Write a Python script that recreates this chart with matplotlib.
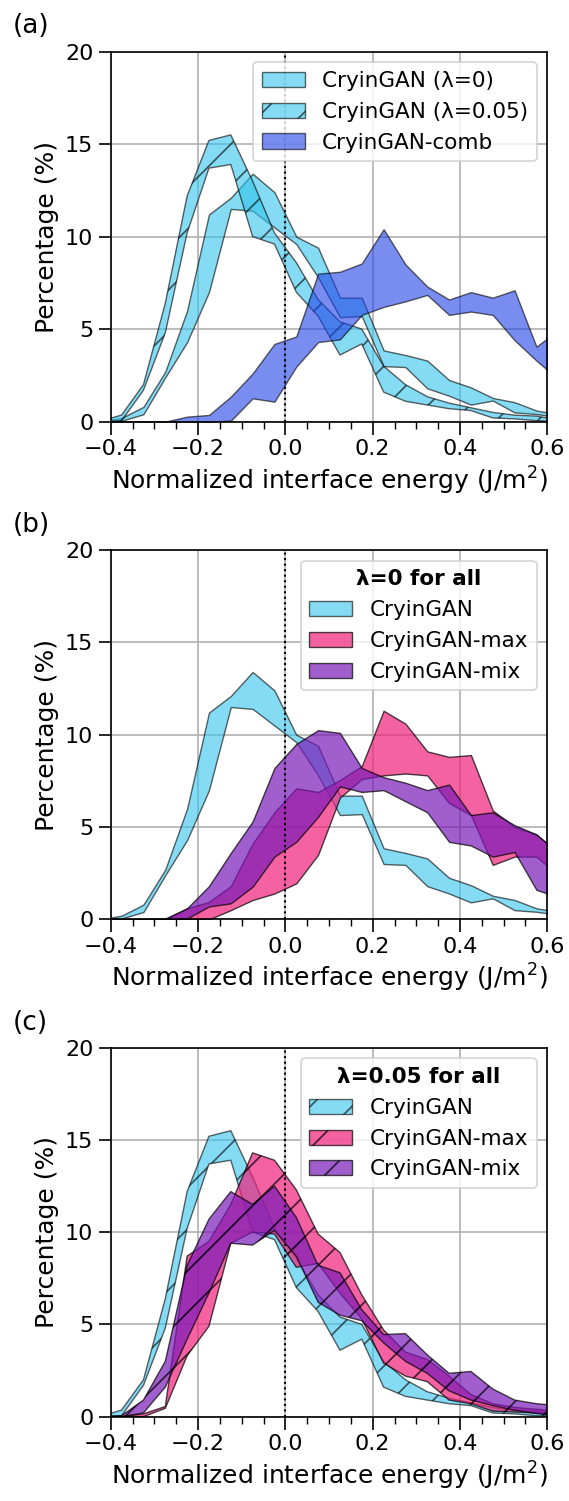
import numpy as np
import matplotlib
matplotlib.use("Agg")
import matplotlib.pyplot as plt
from matplotlib.patches import Patch
from matplotlib.ticker import MultipleLocator

# bin centres (0.05 wide); the two outer ones are clipped by the x limits
x = np.round(np.arange(-0.425, 0.626, 0.05), 3)

# CryinGAN, lambda = 0 (band = min/max over runs)
gan0_hi = [0.0, 0.2, 0.8, 2.7, 6.0, 11.2, 12.1, 13.4, 12.4, 10.0, 9.4, 6.7, 6.7, 3.85, 3.6, 3.3, 2.25, 1.85, 1.28, 1.05, 0.6, 0.4]
gan0_lo = [0.0, 0.05, 0.4, 2.4, 4.3, 7.0, 11.5, 11.4, 10.5, 9.6, 7.8, 5.65, 5.7, 3.0, 2.95, 1.8, 1.4, 0.92, 1.14, 0.5, 0.41, 0.25]

# CryinGAN, lambda = 0.05
gan5_hi = [0.0, 0.36, 2.0, 6.4, 12.2, 15.2, 15.5, 13.0, 10.2, 8.6, 6.6, 5.4, 5.0, 3.0, 2.0, 1.35, 1.0, 0.75, 0.5, 0.35, 0.3, 0.1]
gan5_lo = [0.0, 0.05, 1.7, 4.8, 10.2, 13.7, 13.9, 10.0, 9.6, 7.0, 5.7, 3.6, 4.2, 1.6, 1.1, 0.9, 0.7, 0.6, 0.2, 0.15, 0.05, 0.0]

# CryinGAN-comb
comb_hi = [0.0, 0.0, 0.0, 0.0, 0.27, 0.36, 1.35, 2.6, 4.2, 4.6, 8.0, 8.1, 8.55, 10.4, 8.5, 7.3, 6.6, 7.0, 6.7, 7.1, 4.05, 4.95]
comb_lo = [0.0, 0.0, 0.0, 0.0, 0.0, 0.0, 0.05, 1.26, 1.08, 2.97, 4.3, 4.45, 5.77, 6.2, 6.5, 6.85, 5.77, 5.95, 5.77, 4.4, 3.3, 2.3]

# CryinGAN-max / -mix, lambda = 0
max0_hi = [0.0, 0.0, 0.0, 0.0, 0.6, 0.95, 1.8, 4.1, 5.8, 7.1, 6.9, 7.55, 8.3, 11.3, 10.6, 9.1, 8.8, 8.9, 5.9, 5.0, 4.6, 3.6]
max0_lo = [0.0, 0.0, 0.0, 0.0, 0.0, 0.0, 0.5, 1.05, 1.4, 1.95, 3.5, 6.6, 7.6, 7.8, 7.9, 7.8, 6.3, 5.65, 2.95, 3.4, 3.4, 2.4]
mix0_hi = [0.0, 0.0, 0.0, 0.05, 0.6, 1.8, 3.6, 5.3, 8.2, 9.5, 10.25, 10.1, 8.2, 7.7, 7.4, 7.0, 7.3, 5.65, 5.8, 5.1, 4.6, 3.6]
mix0_lo = [0.0, 0.0, 0.0, 0.0, 0.05, 0.7, 0.87, 1.77, 3.4, 4.2, 5.56, 7.2, 6.9, 7.0, 6.4, 5.8, 4.2, 4.0, 3.4, 3.65, 1.6, 1.2]

# CryinGAN-max / -mix, lambda = 0.05
max5_hi = [0.0, 0.0, 0.15, 0.55, 8.7, 9.5, 11.5, 14.3, 13.9, 12.3, 9.9, 8.9, 6.6, 4.7, 3.5, 3.1, 2.2, 1.2, 0.7, 0.5, 0.4, 0.3]
max5_lo = [0.0, 0.0, 0.0, 0.45, 3.3, 4.9, 9.4, 10.0, 9.9, 8.1, 8.3, 6.7, 5.3, 2.9, 2.2, 1.9, 0.9, 0.7, 0.3, 0.25, 0.2, 0.1]
mix5_hi = [0.0, 0.05, 0.9, 3.0, 8.2, 10.7, 12.2, 11.5, 12.5, 10.8, 8.2, 7.8, 5.8, 4.45, 4.5, 3.35, 2.35, 2.45, 1.5, 0.9, 0.7, 0.6]
mix5_lo = [0.0, 0.0, 0.2, 1.6, 4.2, 6.7, 9.4, 9.3, 10.1, 8.7, 6.2, 5.5, 5.2, 4.0, 3.0, 2.35, 1.4, 0.9, 0.6, 0.35, 0.17, 0.0]

c_gan = "#33c4ec"
c_comb = "#2040e6"
c_max = "#f0207a"
c_mix = "#7a1ab8"

# saved at 125 dpi so the hatch spacing comes out like the original;
# all point sizes are scaled by k to keep the same pixel sizes
DPI = 125
k = 100 / DPI

plt.rcParams["font.size"] = 16 * k
plt.rcParams["hatch.linewidth"] = 1.0

fig = plt.figure(figsize=(569 / DPI, 1501 / DPI), dpi=DPI)
boxes = [
    [0.1946, 0.7191, 0.7673, 0.2465],
    [0.1946, 0.3875, 0.7673, 0.2460],
    [0.1946, 0.0562, 0.7673, 0.2458],
]
axes = [fig.add_axes(b) for b in boxes]
HATCH = "/"


def band(ax, lo, hi, color, alpha, hatch=None):
    ax.fill_between(x, lo, hi, facecolor=color, alpha=alpha, edgecolor="black",
                    linewidth=1.0 * k, hatch=hatch)


def legend_handle(color, alpha, hatch, label):
    return Patch(facecolor=color, alpha=alpha, edgecolor="black", hatch=hatch,
                 linewidth=1.0 * k, label=label)


leg_kw = dict(loc="upper right", fontsize=15.5 * k, handlelength=2.0)
title_font = {"weight": "bold", "size": 15.5 * k}

# (a)
ax = axes[0]
band(ax, gan0_lo, gan0_hi, c_gan, 0.6)
band(ax, gan5_lo, gan5_hi, c_gan, 0.6, hatch=HATCH)
band(ax, comb_lo, comb_hi, c_comb, 0.6)
hs = [legend_handle(c_gan, 0.6, None, "CryinGAN (λ=0)"),
      legend_handle(c_gan, 0.6, HATCH, "CryinGAN (λ=0.05)"),
      legend_handle(c_comb, 0.6, None, "CryinGAN-comb")]
ax.legend(handles=hs, **leg_kw)

# (b)
ax = axes[1]
band(ax, gan0_lo, gan0_hi, c_gan, 0.6)
band(ax, max0_lo, max0_hi, c_max, 0.7)
band(ax, mix0_lo, mix0_hi, c_mix, 0.7)
hs = [legend_handle(c_gan, 0.6, None, "CryinGAN"),
      legend_handle(c_max, 0.7, None, "CryinGAN-max"),
      legend_handle(c_mix, 0.7, None, "CryinGAN-mix")]
ax.legend(handles=hs, title="λ=0 for all", title_fontproperties=title_font, **leg_kw)

# (c)
ax = axes[2]
band(ax, gan5_lo, gan5_hi, c_gan, 0.6, hatch=HATCH)
band(ax, max5_lo, max5_hi, c_max, 0.7, hatch=HATCH)
band(ax, mix5_lo, mix5_hi, c_mix, 0.7, hatch=HATCH)
hs = [legend_handle(c_gan, 0.6, HATCH, "CryinGAN"),
      legend_handle(c_max, 0.7, HATCH, "CryinGAN-max"),
      legend_handle(c_mix, 0.7, HATCH, "CryinGAN-mix")]
ax.legend(handles=hs, title="λ=0.05 for all", title_fontproperties=title_font, **leg_kw)

for ax, tag in zip(axes, ["(a)", "(b)", "(c)"]):
    ax.axvline(0, color="black", linestyle=":", linewidth=1.5 * k)
    ax.set_xlim(-0.4, 0.6)
    ax.set_ylim(0, 20)
    ax.xaxis.set_major_locator(MultipleLocator(0.2))
    ax.xaxis.set_minor_locator(MultipleLocator(0.05))
    ax.yaxis.set_major_locator(MultipleLocator(5))
    ax.tick_params(which="major", length=9 * k, width=1.2 * k, labelsize=16 * k, pad=3.5 * k)
    ax.tick_params(which="minor", length=5 * k, width=1.0 * k)
    ax.grid(True, color="#b0b0b0", linewidth=1.2 * k)
    ax.set_axisbelow(True)
    ax.set_xlabel("Normalized interface energy (J/m$^2$)", fontsize=18 * k, labelpad=4 * k)
    ax.set_ylabel("Percentage (%)", fontsize=18 * k, labelpad=4 * k)
    for s in ax.spines.values():
        s.set_linewidth(1.2 * k)
    ax.text(-0.224, 1.068, tag, transform=ax.transAxes, fontsize=19 * k, ha="left", va="center")

fig.savefig("out.png", dpi=DPI)
